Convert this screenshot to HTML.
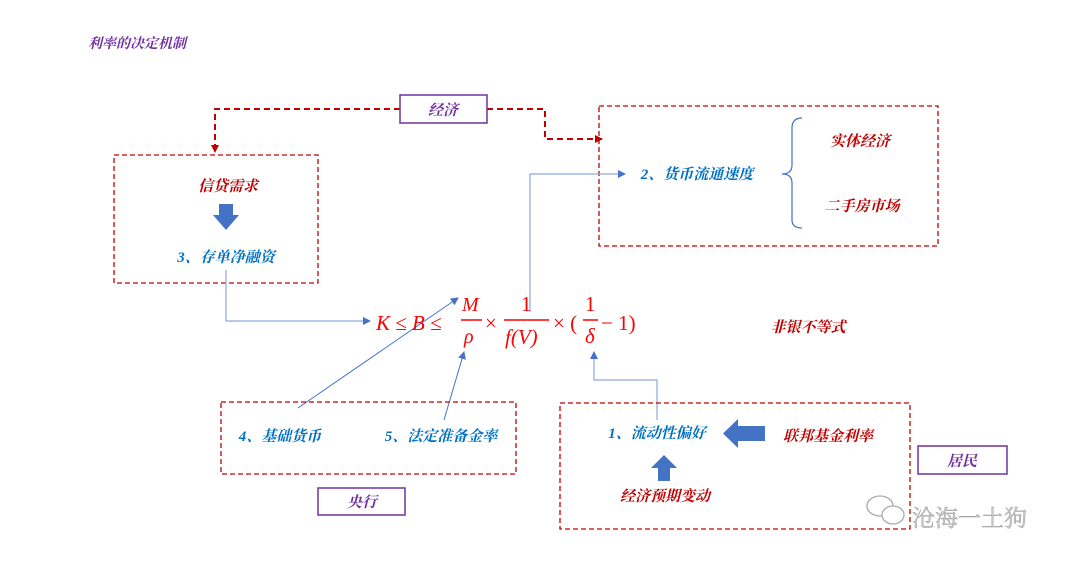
<!DOCTYPE html>
<html><head><meta charset="utf-8"><style>
body{margin:0;background:#fff;}
svg text{font-family:"Liberation Serif","Noto Serif CJK SC","Noto Sans CJK SC",serif;font-style:italic;font-weight:bold;}
</style></head><body>
<svg width="1080" height="564" xmlns="http://www.w3.org/2000/svg">
<defs>
<marker id="ar" markerWidth="8" markerHeight="8" refX="7" refY="4" orient="auto" markerUnits="userSpaceOnUse"><path d="M0,0 L8,4 L0,8 Z" fill="#4472c4"/></marker>
<marker id="rr" markerWidth="8" markerHeight="8" refX="7" refY="4" orient="auto" markerUnits="userSpaceOnUse"><path d="M0,0 L8,4 L0,8 Z" fill="#c00000"/></marker>
</defs>
<text x="88" y="48" font-size="14" fill="#7030a0">利率的决定机制</text>

<polyline points="400,109 215,109 215,152" fill="none" stroke="#c00000" stroke-width="2" stroke-dasharray="6,4" marker-end="url(#rr)"/>
<polyline points="487,109 545,109 545,139 602,139" fill="none" stroke="#c00000" stroke-width="2" stroke-dasharray="6,4" marker-end="url(#rr)"/>
<rect x="400" y="95" width="87" height="28" fill="#fff" stroke="#7030a0" stroke-width="1.5"/>
<text x="443" y="115" font-size="15" fill="#7030a0" text-anchor="middle">经济</text>

<rect x="114" y="155" width="204" height="128" fill="none" stroke="#c00000" stroke-width="1.3" stroke-dasharray="5,3"/>
<text x="228" y="191" font-size="15" fill="#c00000" text-anchor="middle">信贷需求</text>
<path d="M219,204 H233 V215 H239 L226,230 L213,215 H219 Z" fill="#4472c4"/>
<text x="226" y="262" font-size="15" fill="#0070c0" text-anchor="middle">3、存单净融资</text>

<rect x="599" y="106" width="339" height="140" fill="none" stroke="#c00000" stroke-width="1.3" stroke-dasharray="5,3"/>
<text x="697" y="179" font-size="15" fill="#0070c0" text-anchor="middle">2、货币流通速度</text>
<path d="M802,118 Q792,118 792,128 L792,165 Q792,174 782,174 Q792,174 792,183 L792,220 Q792,228 802,228" fill="none" stroke="#4472c4" stroke-width="1.2"/>
<text x="860" y="146" font-size="15" fill="#c00000" text-anchor="middle">实体经济</text>
<text x="862" y="211" font-size="15" fill="#c00000" text-anchor="middle">二手房市场</text>

<polyline points="226,270 226,321 370,321" fill="none" stroke="#8eaadb" stroke-width="1.2" marker-end="url(#ar)"/>
<polyline points="530,312 530,174 625,174" fill="none" stroke="#8eaadb" stroke-width="1.2" marker-end="url(#ar)"/>
<line x1="298" y1="408" x2="458" y2="298" stroke="#4472c4" stroke-width="1" marker-end="url(#ar)"/>
<line x1="444" y1="420" x2="464" y2="352" stroke="#4472c4" stroke-width="1" marker-end="url(#ar)"/>
<polyline points="657,420 657,380 594,380 594,352" fill="none" stroke="#8eaadb" stroke-width="1.2" marker-end="url(#ar)"/>

<g fill="#ff0000" font-size="21" style="font-weight:normal">
<text x="376" y="330" style="font-weight:normal">K ≤ B ≤</text>
<text x="462" y="311" font-size="20" style="font-weight:normal">M</text>
<line x1="461" y1="320" x2="482" y2="320" stroke="#ff0000" stroke-width="1.5"/>
<text x="464" y="343" font-size="20" style="font-weight:normal">ρ</text>
<text x="485" y="330" style="font-style:normal;font-weight:normal">×</text>
<text x="521" y="311" style="font-style:normal;font-weight:normal">1</text>
<line x1="504" y1="320" x2="549" y2="320" stroke="#ff0000" stroke-width="1.5"/>
<text x="505" y="344" style="font-weight:normal">f(V)</text>
<text x="553" y="330" style="font-style:normal;font-weight:normal">× (</text>
<text x="585" y="311" style="font-style:normal;font-weight:normal">1</text>
<line x1="583" y1="320" x2="598" y2="320" stroke="#ff0000" stroke-width="1.5"/>
<text x="585" y="343" style="font-weight:normal">δ</text>
<text x="601" y="330" style="font-style:normal;font-weight:normal">− 1)</text>
</g>
<text x="808" y="332" font-size="15" fill="#c00000" text-anchor="middle">非银不等式</text>

<rect x="221" y="402" width="295" height="72" fill="none" stroke="#c00000" stroke-width="1.3" stroke-dasharray="5,3"/>
<text x="280" y="441" font-size="15" fill="#0070c0" text-anchor="middle">4、基础货币</text>
<text x="441" y="441" font-size="15" fill="#0070c0" text-anchor="middle">5、法定准备金率</text>
<rect x="318" y="488" width="87" height="27" fill="#fff" stroke="#7030a0" stroke-width="1.5"/>
<text x="362" y="507" font-size="15" fill="#7030a0" text-anchor="middle">央行</text>

<rect x="560" y="403" width="350" height="126" fill="none" stroke="#c00000" stroke-width="1.3" stroke-dasharray="5,3"/>
<text x="657" y="438" font-size="15" fill="#0070c0" text-anchor="middle">1、流动性偏好</text>
<path d="M765,426 V441 H738 V448 L723,433.5 L738,419 V426 Z" fill="#4472c4"/>
<text x="828" y="441" font-size="15" fill="#c00000" text-anchor="middle">联邦基金利率</text>
<path d="M658,481 V468 H651 L664,455 L677,468 H670 V481 Z" fill="#4472c4"/>
<text x="665" y="501" font-size="15" fill="#c00000" text-anchor="middle">经济预期变动</text>
<rect x="918" y="446" width="89" height="28" fill="#fff" stroke="#7030a0" stroke-width="1.5"/>
<text x="962" y="466" font-size="15" fill="#7030a0" text-anchor="middle">居民</text>

<g fill="none" stroke="#aaa" stroke-width="1.3">
<ellipse cx="880" cy="506" rx="13" ry="10"/>
<ellipse cx="893" cy="515" rx="11" ry="9" fill="#fff"/>
</g>
<text x="912" y="526" font-size="23" fill="#c8c8c8" stroke="#999" stroke-width="0.4" style="font-style:normal;font-weight:normal" font-family="Noto Sans CJK SC, sans-serif">沧海一土狗</text>
</svg>
</body></html>
